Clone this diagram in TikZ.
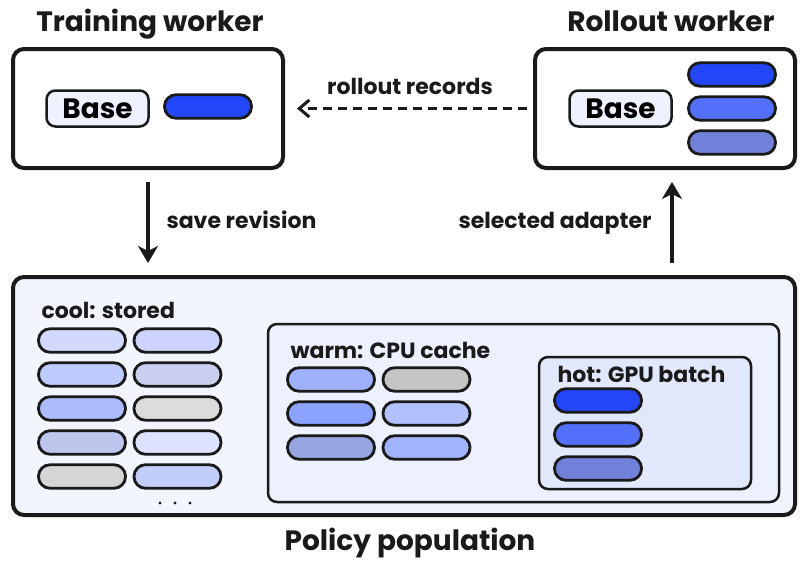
\documentclass[tikz,border=0pt]{standalone}
\usepackage{fontspec}
\setmainfont{Poppins}
\usetikzlibrary{positioning,arrows.meta}
\definecolor{ink}{HTML}{1A1A1A}
\definecolor{popfill}{HTML}{F2F4FE}
\definecolor{warmfill}{HTML}{EDF0FE}
\definecolor{hotfill}{HTML}{E2E8FC}
\definecolor{basefill}{HTML}{EEF2FE}
\definecolor{h1}{HTML}{2347F8}
\definecolor{h2}{HTML}{5470FA}
\definecolor{h3}{HTML}{7181D9}
\definecolor{c1}{HTML}{D2D9FC}
\definecolor{c2}{HTML}{CDD3FC}
\definecolor{c3}{HTML}{BECBFD}
\definecolor{c4}{HTML}{CACFF0}
\definecolor{c5}{HTML}{ABBBFD}
\definecolor{c6}{HTML}{DCDCDC}
\definecolor{c7}{HTML}{BDC6EC}
\definecolor{c8}{HTML}{DEE2FC}
\definecolor{c9}{HTML}{D5D5D5}
\definecolor{c10}{HTML}{C3CDFC}
\definecolor{w1}{HTML}{9FB1FD}
\definecolor{w2}{HTML}{C5C5C5}
\definecolor{w3}{HTML}{8BA3FE}
\definecolor{w4}{HTML}{B2C1FE}
\definecolor{w5}{HTML}{97A5E0}
\definecolor{w6}{HTML}{A1B3FD}
\tikzset{
    worker/.style={draw=ink, line width=4pt, rounded corners=11pt, minimum width=#1, minimum height=119pt},
    tier/.style={draw=ink, line width=2.5pt, rounded corners=9pt},
    pill/.style={draw=ink, line width=2.8pt, rounded corners=11.5pt, minimum width=87pt, minimum height=23.5pt, inner sep=0pt},
    basebox/.style={draw=ink, fill=basefill, line width=2.5pt, rounded corners=9pt, minimum width=102pt, minimum height=36pt, inner sep=0pt, font=\fontsize{28}{28}\selectfont\bfseries},
    title/.style={anchor=base, font=\fontsize{28}{28}\selectfont\bfseries, text=ink},
    label/.style={font=\fontsize{22}{22}\selectfont\bfseries, text=ink},
    flow/.style={draw=ink, line width=4pt, -{Stealth[length=17pt,width=20pt,inset=5pt]}}
}
\begin{document}
\begin{tikzpicture}[x=1pt,y=-1pt]
    \useasboundingbox (0,0) rectangle (801,560);
    \node[worker=270pt] (train) at (148,108.5) {};
    \node[worker=260pt] (roll) at (665,108.5) {};
    \node[worker=782pt, minimum height=238pt, fill=popfill] (pop) at (404,396) {};
    \node[tier, fill=warmfill, minimum width=511pt, minimum height=178pt] (warm) at (523.5,413) {};
    \node[tier, fill=hotfill, minimum width=212pt, minimum height=132pt] (hot) at (645,423) {};
    \node[title] (traintitle) at (150,31) {Training worker};
    \node[title] (rolltitle) at (671,31) {Rollout worker};
    \node[title] (poptitle) at (410,550) {Policy population};
    \node[basebox] (trainbase) at (97.5,108.5) {Base};
    \node[basebox] (rollbase) at (620.5,108.5) {Base};
    \node[pill, fill=h1] (trainad) at (208,106.5) {};
    \foreach \y/\c [count=\i] in {74.5/h1, 108.5/h2, 142.5/h3}
        \node[pill, fill=\c] (rollad\i) at (732,\y) {};
    \foreach \y/\c [count=\i] in {400.5/h1, 434.5/h2, 468.5/h3}
        \node[pill, fill=\c] (hot\i) at (598,\y) {};
    \foreach \x/\y/\c [count=\i] in {331/379.5/w1, 426.5/379.5/w2, 331/413.5/w3, 426.5/413.5/w4, 331/447.5/w5, 426.5/447.5/w6}
        \node[pill, fill=\c] (warm\i) at (\x,\y) {};
    \foreach \x/\y/\c [count=\i] in {82/340.5/c1, 177.5/340.5/c2, 82/374.5/c3, 177.5/374.5/c4, 82/408.5/c5, 177.5/408.5/c6, 82/442.5/c7, 177.5/442.5/c8, 82/476.5/c9, 177.5/476.5/c10}
        \node[pill, fill=\c] (cool\i) at (\x,\y) {};
    \foreach \x in {160,175,190}
        \fill[ink] (\x,503) circle (1.6pt);
    \node[label, anchor=base west] (coollabel) at (38,318) {cool: stored};
    \node[label, anchor=base west] (warmlabel) at (287,358) {warm: CPU cache};
    \node[label, anchor=base west] (hotlabel) at (554,382) {hot: GPU batch};
    \draw[ink, line width=3pt, dash pattern=on 9pt off 6pt, -{Straight Barb[length=10pt,width=17pt]}] ([xshift=-6pt]roll.west) -- ([xshift=12pt]train.east);
    \node[label, anchor=base] (recordslabel) at (410,94) {rollout records};
    \draw[flow] ([yshift=-12pt]train.south) -- ([yshift=12pt]train.south |- pop.north);
    \node[label, anchor=base west] (savelabel) at (163,228) {save revision};
    \draw[flow] ([xshift=7pt,yshift=12pt]roll.south |- pop.north) -- ([xshift=7pt,yshift=-12pt]roll.south);
    \node[label, anchor=base east] (selectlabel) at (655,228) {selected adapter};
\end{tikzpicture}
\end{document}
